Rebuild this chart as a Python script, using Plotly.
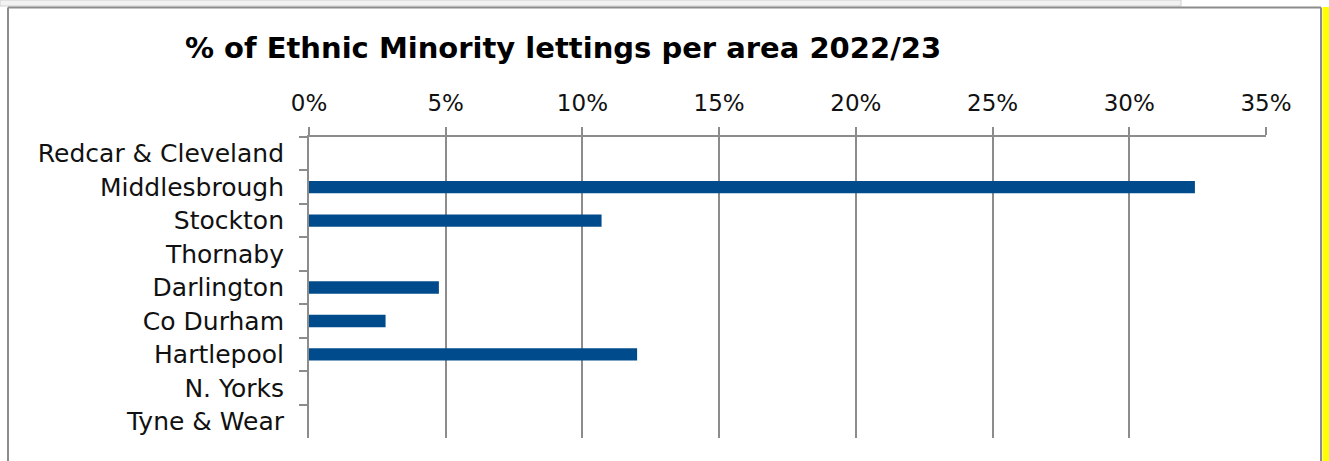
import plotly.graph_objects as go

# Lettings to ethnic minority households, share by area (2022/23)
areas = ["Redcar & Cleveland", "Middlesbrough", "Stockton", "Thornaby",
         "Darlington", "Co Durham", "Hartlepool", "N. Yorks", "Tyne & Wear"]
share_pct = [0.0, 32.4, 10.7, 0.0, 4.75, 2.8, 12.0, 0.0, 0.0]
x_ticks = [0, 5, 10, 15, 20, 25, 30, 35]
x_tick_text = [f"{t}%" for t in x_ticks]

W, H = 1329, 461
L, R, T, B = 309, 1266, 137, 438          # plot area in pixels
FONT = "DejaVu Sans"
GREY = "#8c8c8c"
TEXT = "#111111"


def px_x(px):
    return (px - L) / (R - L)


def px_y(py):
    return (B - py) / (B - T)


fig = go.Figure(go.Bar(
    x=share_pct,
    y=areas,
    orientation="h",
    width=0.37,
    marker=dict(color="#004b8b", line=dict(width=0)),
    hoverinfo="x+y",
))

fig.update_layout(
    width=W, height=H,
    margin=dict(l=L, r=W - R, t=T, b=H - B),
    paper_bgcolor="white", plot_bgcolor="white",
    showlegend=False,
    title=dict(
        text="<b>% of Ethnic Minority lettings per area 2022/23</b>",
        x=px_x(563), xref="paper", xanchor="center",
        y=1 - 48 / H, yref="container", yanchor="middle",
        font=dict(family=FONT, size=29, color="black"),
    ),
    font=dict(family=FONT, color=TEXT),
)

fig.update_xaxes(
    side="top", range=[0, 35],
    tickvals=x_ticks, ticktext=x_tick_text,
    showgrid=True, gridcolor=GREY, gridwidth=2,
    showline=True, linecolor=GREY, linewidth=2,
    ticks="outside", ticklen=8, tickcolor=GREY, tickwidth=2,
    tickfont=dict(family=FONT, size=23, color=TEXT),
    ticklabelstandoff=7,
    zeroline=False, fixedrange=True,
)
fig.update_yaxes(
    type="category", categoryorder="array", categoryarray=areas,
    autorange="reversed",
    showgrid=False,
    showline=True, linecolor=GREY, linewidth=2,
    ticks="outside", ticklen=8, tickcolor=GREY, tickwidth=2,
    tickson="boundaries",
    tickfont=dict(family=FONT, size=25, color=TEXT),
    ticklabelstandoff=18,
    fixedrange=True,
)

shapes = [
    # light band along the top edge
    dict(type="rect", xref="paper", yref="paper",
         x0=px_x(0), x1=px_x(1181), y0=px_y(0), y1=px_y(6),
         fillcolor="#f2f2f2", line=dict(color="#d0d0d0", width=1), layer="below"),
    # chart frame
    dict(type="line", xref="paper", yref="paper",
         x0=px_x(8), x1=px_x(1321), y0=px_y(7.5), y1=px_y(7.5),
         line=dict(color=GREY, width=2)),
    dict(type="line", xref="paper", yref="paper",
         x0=px_x(8), x1=px_x(8), y0=px_y(7.5), y1=px_y(H + 2),
         line=dict(color=GREY, width=2)),
    dict(type="line", xref="paper", yref="paper",
         x0=px_x(1321), x1=px_x(1321), y0=px_y(7.5), y1=px_y(H + 2),
         line=dict(color=GREY, width=2)),
    # yellow strip at the right edge
    dict(type="rect", xref="paper", yref="paper",
         x0=px_x(1322.5), x1=px_x(W + 2), y0=px_y(7), y1=px_y(H + 2),
         fillcolor="#ffff00", line=dict(width=0)),
]
fig.update_layout(shapes=shapes)

fig.write_html("out.html")
